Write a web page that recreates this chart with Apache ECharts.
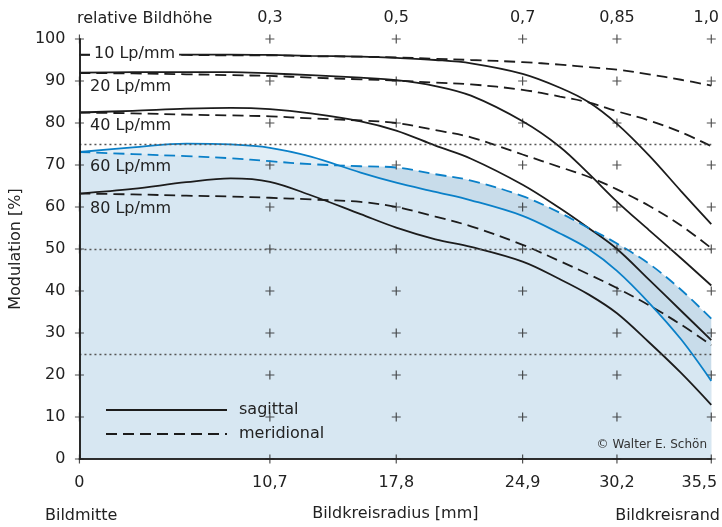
<!DOCTYPE html>
<html>
<head>
<meta charset="utf-8">
<title>MTF</title>
<script src="https://cdn.jsdelivr.net/npm/echarts@6/dist/echarts.min.js"></script>
<style>
  html, body { margin: 0; padding: 0; background: #fff; }
  #chart { width: 722px; height: 527px; }
</style>
</head>
<body>
<div id="chart"></div>
<script>
// Bildkreisradius in mm
var xs = [0, 3, 6, 8.5, 10.7, 13, 15.8, 17.8, 20, 22, 24.9, 27, 28.6, 30.2, 32, 33.8, 35.5];

// Modulation in %, sagittal (s) und meridional (m)
var s10 = [96.3, 96.3, 96.3, 96.3, 96.2, 96.0, 95.8, 95.5, 95.0, 94.2, 91.7, 88.4, 85.0, 79.8, 72.3, 63.8, 55.9];
var m10 = [96.2, 96.2, 96.2, 96.1, 96.1, 95.9, 95.8, 95.6, 95.3, 95.0, 94.5, 93.9, 93.3, 92.7, 91.6, 90.3, 88.9];
var s20 = [92.0, 92.1, 92.1, 92.1, 91.8, 91.4, 90.8, 90.2, 88.8, 86.5, 80.4, 74.3, 68.0, 61.3, 54.5, 47.8, 41.3];
var m20 = [91.9, 91.8, 91.6, 91.4, 91.2, 90.8, 90.4, 90.1, 89.6, 89.2, 87.9, 86.3, 84.9, 82.8, 80.6, 77.8, 74.5];
var s40 = [82.5, 82.9, 83.4, 83.6, 83.3, 82.3, 80.4, 78.2, 74.6, 71.5, 65.3, 59.7, 55.0, 50.0, 42.7, 35.3, 28.3];
var m40 = [82.5, 82.3, 82.0, 81.8, 81.6, 81.1, 80.6, 80.0, 78.3, 76.6, 72.5, 69.5, 67.2, 64.2, 60.3, 55.6, 50.2];
var s60 = [73.1, 74.2, 75.1, 74.9, 74.1, 72.0, 68.2, 65.8, 63.6, 61.6, 57.9, 53.7, 50.0, 44.8, 37.2, 28.5, 18.6];
var m60 = [73.1, 72.6, 72.1, 71.6, 70.9, 70.2, 69.7, 69.4, 67.8, 66.3, 62.6, 58.6, 55.0, 51.3, 46.5, 40.3, 33.4];
var s80 = [63.2, 64.3, 65.9, 66.8, 66.0, 62.8, 58.3, 55.1, 52.3, 50.5, 47.0, 42.8, 39.2, 34.7, 27.8, 20.5, 12.9];
var m80 = [63.2, 63.0, 62.7, 62.5, 62.2, 61.8, 61.2, 60.0, 57.7, 55.4, 51.0, 47.1, 44.0, 40.7, 36.6, 32.0, 27.1];

// Achsen
var xTicks = [0, 10.7, 17.8, 24.9, 30.2, 35.5];
var relTicks = [10.7, 17.8, 24.9, 30.2, 35.5];
var relLabels = ['0,3', '0,5', '0,7', '0,85', '1,0'];
var yMarks = [0, 10, 20, 30, 40, 50, 60, 70, 80, 90, 100];
var refLevels = [75, 50, 25];
var freqLabels = ['10 Lp/mm', '20 Lp/mm', '40 Lp/mm', '60 Lp/mm', '80 Lp/mm'];
var freqTop = [46, 79, 118, 159, 201];

var BLACK = '#1c1c1c';
var BLUE = '#0a80c8';
var FONT = 'DejaVu Sans';

function pts(vals) {
  return xs.map(function (x, i) { return [x, vals[i]]; });
}

function curve(name, vals, color, dashed) {
  return {
    type: 'line', name: name, data: pts(vals),
    symbol: 'none', smooth: 0.35,
    lineStyle: { color: color, width: 1.8, type: dashed ? [11, 6] : 'solid' },
    silent: true, z: 4, animation: false
  };
}

function area(vals, color) {
  return {
    type: 'line', data: pts(vals),
    symbol: 'none', smooth: 0.35,
    lineStyle: { width: 0, opacity: 0 },
    areaStyle: { color: color, opacity: 1 },
    silent: true, z: 1, animation: false
  };
}

var crosses = [];
xTicks.forEach(function (x) {
  yMarks.forEach(function (y) { crosses.push([x, y]); });
});

var series = [
  area(m60, '#c8dcea'),
  area(s60, 'rgba(219,234,244,0.8)'),
  {
    type: 'scatter', data: crosses, clip: false, silent: true, z: 2,
    symbol: 'path://M4.35,0h1.3v4.35h4.35v1.3h-4.35v4.35h-1.3v-4.35h-4.35v-1.3h4.35z',
    symbolSize: 9, itemStyle: { color: '#222' }, animation: false,
    markLine: {
      silent: true, symbol: 'none', animation: false,
      label: { show: false },
      lineStyle: { color: '#555', width: 1.3, type: [2, 3] },
      data: refLevels.map(function (v) { return { yAxis: v }; })
    }
  },
  curve('m10', m10, BLACK, true), curve('s10', s10, BLACK, false),
  curve('m20', m20, BLACK, true), curve('s20', s20, BLACK, false),
  curve('m40', m40, BLACK, true), curve('s40', s40, BLACK, false),
  curve('m80', m80, BLACK, true), curve('s80', s80, BLACK, false),
  curve('m60', m60, BLUE, true), curve('s60', s60, BLUE, false),
  {
    type: 'line', name: 'sagittal', data: [], symbol: 'none',
    itemStyle: { color: 'rgba(0,0,0,0)', borderWidth: 0 },
    lineStyle: { color: BLACK, width: 1.8 }
  },
  {
    type: 'line', name: 'meridional', data: [], symbol: 'none',
    itemStyle: { color: 'rgba(0,0,0,0)', borderWidth: 0 },
    lineStyle: { color: BLACK, width: 1.8, type: [11, 6] }
  }
];

var axisLine = { show: true, lineStyle: { color: '#222', width: 1.6 } };
var labelStyle = { color: '#222', fontSize: 16, fontFamily: FONT };

var graphics = freqLabels.map(function (t, i) {
  return {
    type: 'text', left: 90, top: freqTop[i], z: 10,
    style: {
      text: t, fill: '#222', font: '16px "' + FONT + '"',
      backgroundColor: i === 0 ? '#fff' : null, padding: i === 0 ? [0, 4, 0, 4] : 0
    }
  };
});
graphics.push({ type: 'text', left: 45, top: 508, style: { text: 'Bildmitte', fill: '#222', font: '16px "' + FONT + '"' } });
graphics.push({ type: 'text', right: 2, top: 508, style: { text: 'Bildkreisrand', fill: '#222', font: '16px "' + FONT + '"' } });
graphics.push({ type: 'text', right: 15, top: 439, z: 10, style: { text: '\u00a9 Walter E. Sch\u00f6n', fill: '#333', font: '12px "' + FONT + '"' } });

var chart = echarts.init(document.getElementById('chart'));
chart.setOption({
  animation: false,
  textStyle: { fontFamily: FONT },
  title: {
    text: 'relative Bildh\u00f6he', left: 72, top: 6,
    textStyle: { fontSize: 16, fontWeight: 'normal', color: '#222', fontFamily: FONT }
  },
  grid: { left: 78, right: 9, top: 39, bottom: 66, containLabel: false },
  legend: {
    data: ['sagittal', 'meridional'], orient: 'vertical', left: 100, top: 397,
    itemWidth: 121, itemHeight: 14, itemGap: 8, selectedMode: false,
    textStyle: { fontSize: 16, color: '#222', fontFamily: FONT, padding: [0, 0, 0, 7] }
  },
  xAxis: [{
    type: 'value', min: 0, max: 35.5, position: 'bottom', z: 6,
    axisLine: axisLine, axisTick: { show: false }, splitLine: { show: false },
    axisLabel: {
      customValues: xTicks, margin: 16, fontSize: 16, color: '#222', fontFamily: FONT,
      formatter: function (v) {
        var t = String(v).replace('.', ',');
        return v === 35.5 ? '{e|' + t + '}' : t;
      },
      rich: { e: { fontSize: 16, color: '#222', fontFamily: FONT, padding: [0, 24, 0, 0] } }
    },
    name: 'Bildkreisradius [mm]', nameLocation: 'middle', nameGap: 47,
    nameTextStyle: labelStyle
  }, {
    type: 'value', min: 0, max: 35.5, position: 'top', z: 6,
    axisLine: axisLine, axisTick: { show: false }, splitLine: { show: false },
    axisLabel: {
      customValues: relTicks, margin: 13, fontSize: 16, color: '#222', fontFamily: FONT,
      formatter: function (v) {
        var t = relLabels[relTicks.indexOf(v)];
        return v === 35.5 ? '{e|' + t + '}' : t;
      },
      rich: { e: { fontSize: 16, color: '#222', fontFamily: FONT, padding: [0, 10, 0, 0] } }
    }
  }],
  yAxis: [{
    type: 'value', min: 0, max: 100, interval: 10, position: 'left', z: 6,
    axisLine: axisLine, axisTick: { show: false }, splitLine: { show: false },
    axisLabel: { margin: 14, fontSize: 16, color: '#222', fontFamily: FONT },
    name: 'Modulation [%]', nameLocation: 'middle', nameGap: 42,
    nameTextStyle: labelStyle
  }, {
    type: 'value', min: 0, max: 100, interval: 10, position: 'right', z: 6,
    axisLine: axisLine, axisTick: { show: false }, splitLine: { show: false },
    axisLabel: { show: false }
  }],
  graphic: graphics,
  series: series
});
</script>
</body>
</html>
